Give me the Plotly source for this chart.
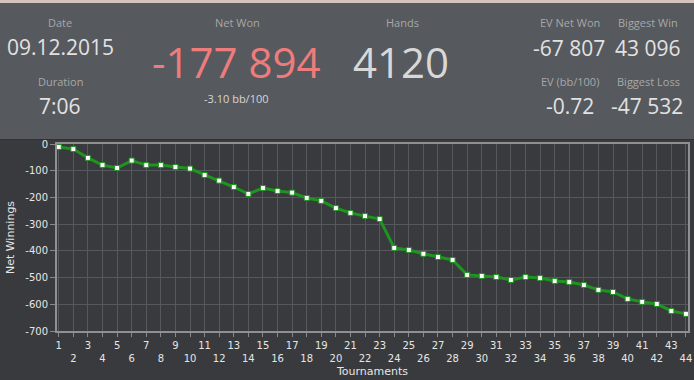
import plotly.graph_objects as go

# ---- data ----
tournaments = list(range(1, 45))
net_winnings = [-11, -19, -52, -79, -90, -62, -79, -79, -86, -92,
                -116, -137, -161, -187, -165, -176, -182, -202, -213, -240,
                -258, -270, -281, -389, -397, -411, -423, -434, -490, -494,
                -498, -509, -498, -502, -513, -517, -528, -546, -554, -580,
                -591, -599, -625, -636]
y_ticks = [0, -100, -200, -300, -400, -500, -600, -700]

header_labels = ["Date", "Duration", "Net Won", "Hands", "EV Net Won", "Biggest Win",
                 "EV (bb/100)", "Biggest Loss"]
header_values = ["09.12.2015", "7:06", "-177 894", "4120", "-67 807", "43 096",
                 "-0.72", "-47 532"]
net_bb = "-3.10 bb/100"

W, H = 694, 380
ML, MR, MT, MB = 57, 6, 144, 49
PW, PH = W - ML - MR, H - MT - MB


def px(xp):
    return (xp - ML) / PW


def py(yp):
    return (H - MB - yp) / PH


x_ticktext = [str(t) if t % 2 == 1 else "<br>" + str(t) for t in tournaments]

fig = go.Figure()
fig.add_trace(go.Scatter(
    x=tournaments, y=net_winnings, mode="lines+markers",
    line=dict(color="#1e951e", width=3),
    marker=dict(symbol="square", size=5, color="white",
                line=dict(color="#1e951e", width=1)),
    hoverinfo="x+y", showlegend=False,
))

HEADER_BG = "#56595d"
CHART_BG = "#383a3d"

shapes = [
    dict(type="rect", xref="paper", yref="paper", x0=px(-20), x1=px(W + 20), y0=py(139.5), y1=py(-20),
         fillcolor=HEADER_BG, line=dict(width=0), layer="below"),
    dict(type="rect", xref="paper", yref="paper", x0=px(-20), x1=px(W + 20), y0=py(3), y1=py(-20),
         fillcolor="#d5c3be", line=dict(width=0), layer="below"),
    dict(type="line", xref="paper", yref="paper", x0=px(-20), x1=px(W + 20), y0=py(139.5), y1=py(139.5),
         line=dict(color="#2f3134", width=1), layer="below"),
]

LABEL_FONT = dict(family="Open Sans", size=11, color="#a8a8a8")
VAL_FONT = dict(family="Open Sans", size=21, color="#e2e2e2")
BIG_FONT = dict(family="Open Sans", size=42, color="#d8d8d8")

annotations = []


def ann(text, xp, yp, font):
    annotations.append(dict(text=text, xref="paper", yref="paper", x=px(xp), y=py(yp),
                            xanchor="center", yanchor="middle", showarrow=False, font=font))


label_pos = [(60, 22), (60, 81), (237, 22), (402, 22), (570, 22), (648, 22), (570, 81), (648, 81)]
value_pos = [(60, 47), (60, 106), (236, 61), (401, 61), (569, 48), (648, 48), (570, 106), (647, 106)]
for lab, (xp, yp) in zip(header_labels, label_pos):
    ann(lab, xp, yp, LABEL_FONT)
for i, (val, (xp, yp)) in enumerate(zip(header_values, value_pos)):
    if i == 2:
        ann(val, xp, yp, dict(BIG_FONT, color="#ef7c7c"))
    elif i == 3:
        ann(val, xp, yp, BIG_FONT)
    else:
        ann(val, xp, yp, VAL_FONT)
ann(net_bb, 236, 98.5, dict(family="Open Sans", size=11, color="#d6d6d6"))

TICK_FONT = dict(family="DejaVu Sans", size=10, color="#e6e6e6")

fig.update_layout(
    width=W, height=H,
    margin=dict(l=ML, r=MR, t=MT, b=MB, pad=0),
    paper_bgcolor=CHART_BG, plot_bgcolor=CHART_BG,
    shapes=shapes, annotations=annotations,
    xaxis=dict(
        range=[0.88, 44.14], tickvals=tournaments, ticktext=x_ticktext,
        tickfont=TICK_FONT, ticks="outside", ticklen=4, tickcolor="#8a8a8a",
        showgrid=True, gridcolor="#55585c", gridwidth=1,
        showline=True, linecolor="#909090", linewidth=2, mirror=True,
        zeroline=False, tickangle=0, automargin=False,
        title=dict(text="Tournaments", font=dict(family="DejaVu Sans", size=11, color="#e6e6e6"),
                   standoff=4),
    ),
    yaxis=dict(
        range=[-700, 0], tickvals=y_ticks, ticktext=[str(v) for v in y_ticks],
        tickfont=TICK_FONT, ticks="outside", ticklen=5, tickcolor="#8a8a8a",
        showgrid=True, gridcolor="#55585c", gridwidth=1,
        showline=True, linecolor="#909090", linewidth=2, mirror=True,
        zeroline=False, automargin=False,
        title=dict(text="Net Winnings", font=dict(family="DejaVu Sans", size=11, color="#e6e6e6"),
                   standoff=8),
    ),
)

fig.write_html("out.html", config={"displayModeBar": False},
               post_script="document.body.style.margin='0';document.body.style.overflow='hidden';")
